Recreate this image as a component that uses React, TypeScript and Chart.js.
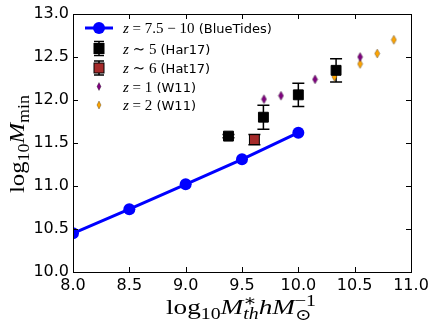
import React, { useEffect, useRef } from "react";
import { Chart, registerables } from "chart.js";
Chart.register(...registerables);

const blueX = [8.0, 8.5, 9.0, 9.5, 10.0];
const blueY = [10.45, 10.73, 11.02, 11.31, 11.62];
const har17X = [9.38, 9.69, 10.0, 10.335];
const har17Y = [11.58, 11.8, 12.06, 12.345];
const har17Err = [0.02, 0.14, 0.135, 0.135];
const hat17X = [9.61];
const hat17Y = [11.54];
const hat17Err = [0.06];
const w11z1X = [9.695, 9.846, 10.148, 10.548];
const w11z1Y = [12.01, 12.05, 12.24, 12.5];
const w11z2X = [10.32, 10.548, 10.7, 10.848];
const w11z2Y = [12.27, 12.42, 12.54, 12.7];
const xTicks = [8.0, 8.5, 9.0, 9.5, 10.0, 10.5, 11.0];
const yTicks = [10.0, 10.5, 11.0, 11.5, 12.0, 12.5, 13.0];
const legendLabels = [
  ["z", " = 7.5 − 10", " (BlueTides)"],
  ["z", " ∼ 5", " (Har17)"],
  ["z", " ∼ 6", " (Hat17)"],
  ["z", " = 1", " (W11)"],
  ["z", " = 2", " (W11)"],
];

const SERIF = "'Liberation Serif', 'DejaVu Serif', serif";
const SANS = "'DejaVu Sans', sans-serif";

function makeDiamond(fill: string, w: number, h: number) {
  const c = document.createElement("canvas");
  c.width = w + 2;
  c.height = h + 2;
  const g = c.getContext("2d")!;
  const cx = c.width / 2, cy = c.height / 2;
  g.beginPath();
  g.moveTo(cx, cy - h / 2);
  g.lineTo(cx + w / 2, cy);
  g.lineTo(cx, cy + h / 2);
  g.lineTo(cx - w / 2, cy);
  g.closePath();
  g.fillStyle = fill;
  g.fill();
  g.strokeStyle = "rgba(0,0,0,0.6)";
  g.lineWidth = 0.5;
  g.stroke();
  return c;
}

type Seg = { t: string; f: string; dy?: number; adv?: boolean };
function drawSegs(ctx: CanvasRenderingContext2D, segs: Seg[], x: number, y: number, draw = true) {
  let cx = x;
  for (const s of segs) {
    ctx.font = s.f;
    if (draw) ctx.fillText(s.t, cx, y + (s.dy || 0));
    const w = ctx.measureText(s.t).width;
    if (s.adv !== false) cx += w;
  }
  return cx - x;
}

function drawFitted(ctx: CanvasRenderingContext2D, segs: Seg[], cx: number, cy: number, targetW: number, rot: number) {
  const w = drawSegs(ctx, segs, 0, 0, false);
  const sx = targetW / w;
  ctx.save();
  ctx.translate(cx, cy);
  ctx.rotate(rot);
  ctx.scale(sx, 1);
  drawSegs(ctx, segs, -w / 2, 0);
  ctx.restore();
}

export default function App() {
  const ref = useRef<HTMLCanvasElement>(null);
  useEffect(() => {
    const purpleD = makeDiamond("#800080", 5, 9);
    const orangeD = makeDiamond("#FFA500", 5, 9);
    const errs = [
      { xs: har17X, ys: har17Y, es: har17Err },
      { xs: hat17X, ys: hat17Y, es: hat17Err },
    ];
    const plugin = {
      id: "custom",
      beforeDatasetsDraw(chart: any) {
        const ctx = chart.ctx as CanvasRenderingContext2D;
        const xs = chart.scales.x, ys = chart.scales.y;
        ctx.save();
        ctx.strokeStyle = "#000";
        ctx.lineWidth = 1.5;
        for (const e of errs) {
          e.xs.forEach((xv, i) => {
            const px = xs.getPixelForValue(xv);
            const top = ys.getPixelForValue(e.ys[i] + e.es[i]);
            const bot = ys.getPixelForValue(e.ys[i] - e.es[i]);
            ctx.beginPath();
            ctx.moveTo(px, top);
            ctx.lineTo(px, bot);
            ctx.moveTo(px - 6, top);
            ctx.lineTo(px + 6, top);
            ctx.moveTo(px - 6, bot);
            ctx.lineTo(px + 6, bot);
            ctx.stroke();
          });
        }
        ctx.restore();
      },
      afterDraw(chart: any) {
        const ctx = chart.ctx as CanvasRenderingContext2D;
        const a = chart.chartArea;
        const xs = chart.scales.x, ys = chart.scales.y;
        ctx.save();
        ctx.strokeStyle = "#000";
        ctx.lineWidth = 1;
        ctx.strokeRect(Math.round(a.left) + 0.5, Math.round(a.top) + 0.5, Math.round(a.right - a.left), Math.round(a.bottom - a.top));
        ctx.beginPath();
        for (const t of xTicks) {
          const px = Math.round(xs.getPixelForValue(t)) + 0.5;
          ctx.moveTo(px, a.bottom);
          ctx.lineTo(px, a.bottom - 5);
          ctx.moveTo(px, a.top);
          ctx.lineTo(px, a.top + 5);
        }
        for (const t of yTicks) {
          const py = Math.round(ys.getPixelForValue(t)) + 0.5;
          ctx.moveTo(a.left, py);
          ctx.lineTo(a.left + 5, py);
          ctx.moveTo(a.right, py);
          ctx.lineTo(a.right - 5, py);
        }
        ctx.stroke();

        // axis titles
        ctx.fillStyle = "#000";
        ctx.textBaseline = "alphabetic";
        const big = `22px ${SERIF}`;
        const bigI = `italic 22px ${SERIF}`;
        const sm = `16px ${SERIF}`;
        const smI = `italic 16px ${SERIF}`;
        const xSegs: Seg[] = [
          { t: "log", f: big },
          { t: "10", f: sm, dy: 5 },
          { t: "M", f: bigI },
          { t: "∗", f: sm, dy: -8, adv: false },
          { t: "th", f: smI, dy: 5 },
          { t: "h", f: bigI },
          { t: "M", f: bigI },
          { t: "⊙", f: sm, dy: 6, adv: false },
          { t: "−1", f: sm, dy: -8 },
        ];
        drawFitted(ctx, xSegs, 241, 314, 150, 0);

        const ySegs: Seg[] = [
          { t: "log", f: big },
          { t: "10", f: sm, dy: 5 },
          { t: "M", f: bigI },
          { t: "min", f: sm, dy: 5 },
        ];
        drawFitted(ctx, ySegs, 24, 144, 98, -Math.PI / 2);

        // legend
        const rows = [28, 48.5, 68, 86.5, 105];
        const hx = 99;
        ctx.strokeStyle = "#0000ff";
        ctx.lineWidth = 3;
        ctx.beginPath();
        ctx.moveTo(85, rows[0]);
        ctx.lineTo(113, rows[0]);
        ctx.stroke();
        ctx.fillStyle = "#0000ff";
        ctx.beginPath();
        ctx.arc(hx, rows[0], 6, 0, Math.PI * 2);
        ctx.fill();
        const sq = (y: number, fill: string) => {
          ctx.strokeStyle = "#000";
          ctx.lineWidth = 1.5;
          ctx.beginPath();
          ctx.moveTo(hx, y - 7);
          ctx.lineTo(hx, y + 7);
          ctx.moveTo(hx - 5, y - 7);
          ctx.lineTo(hx + 5, y - 7);
          ctx.moveTo(hx - 5, y + 7);
          ctx.lineTo(hx + 5, y + 7);
          ctx.stroke();
          ctx.fillStyle = fill;
          ctx.fillRect(hx - 5, y - 5, 10, 10);
          ctx.lineWidth = 1;
          ctx.strokeRect(hx - 5, y - 5, 10, 10);
        };
        sq(rows[1], "#000");
        sq(rows[2], "#a52a2a");
        const dm = (y: number, fill: string) => {
          ctx.beginPath();
          ctx.moveTo(hx, y - 4);
          ctx.lineTo(hx + 2, y);
          ctx.lineTo(hx, y + 4);
          ctx.lineTo(hx - 2, y);
          ctx.closePath();
          ctx.fillStyle = fill;
          ctx.fill();
          ctx.strokeStyle = "rgba(0,0,0,0.6)";
          ctx.lineWidth = 0.5;
          ctx.stroke();
        };
        dm(rows[3], "#800080");
        dm(rows[4], "#FFA500");
        ctx.fillStyle = "#000";
        legendLabels.forEach((l, i) => {
          drawSegs(ctx, [
            { t: l[0], f: `italic 15px ${SERIF}` },
            { t: l[1], f: `15px ${SERIF}` },
            { t: l[2], f: `13px ${SANS}` },
          ], 123, rows[i] + 5);
        });
        ctx.restore();
      },
    };

    const toPts = (xs: number[], ys: number[]) => xs.map((x, i) => ({ x, y: ys[i] }));
    const chart = new Chart(ref.current!, {
      type: "scatter",
      data: {
        datasets: [
          {
            label: "BlueTides",
            data: toPts(blueX, blueY),
            showLine: true,
            borderColor: "#0000ff",
            backgroundColor: "#0000ff",
            borderWidth: 3,
            pointRadius: 6,
            pointBorderWidth: 0,
            order: 3,
          },
          {
            label: "Har17",
            data: toPts(har17X, har17Y),
            pointStyle: "rect",
            pointRadius: 7,
            backgroundColor: "#000",
            borderColor: "#000",
            pointBorderWidth: 1,
            order: 1,
          },
          {
            label: "Hat17",
            data: toPts(hat17X, hat17Y),
            pointStyle: "rect",
            pointRadius: 7,
            backgroundColor: "#a52a2a",
            borderColor: "#000",
            pointBorderWidth: 1,
            order: 2,
          },
          {
            label: "W11 z1",
            data: toPts(w11z1X, w11z1Y),
            pointStyle: purpleD as any,
            order: 4,
          },
          {
            label: "W11 z2",
            data: toPts(w11z2X, w11z2Y),
            pointStyle: orangeD as any,
            order: 5,
          },
        ],
      },
      options: {
        animation: false,
        responsive: false,
        layout: { padding: { top: 14, right: 25, left: 0, bottom: 0 } },
        plugins: { legend: { display: false }, tooltip: { enabled: false } },
        scales: {
          x: {
            type: "linear",
            min: 8,
            max: 11,
            afterBuildTicks: (s: any) => { s.ticks = xTicks.map((v) => ({ value: v })); },
            afterFit: (s: any) => { s.height = 55; },
            grid: { display: false, drawTicks: false },
            border: { display: false },
            ticks: {
              padding: 4,
              color: "#000",
              font: { family: SANS, size: 16 },
              callback: (v: any) => Number(v).toFixed(1),
            },
          },
          y: {
            type: "linear",
            min: 10,
            max: 13,
            afterBuildTicks: (s: any) => { s.ticks = yTicks.map((v) => ({ value: v })); },
            afterFit: (s: any) => { s.width = 73; },
            grid: { display: false, drawTicks: false },
            border: { display: false },
            ticks: {
              padding: 4,
              color: "#000",
              font: { family: SANS, size: 16 },
              callback: (v: any) => Number(v).toFixed(1),
            },
          },
        },
      },
      plugins: [plugin],
    });
    return () => chart.destroy();
  }, []);
  return (
    <div style={{ position: "fixed", left: 0, top: 0, width: 436, height: 327, background: "#fff" }}>
      <canvas ref={ref} width={436} height={327} style={{ display: "block" }} />
    </div>
  );
}
